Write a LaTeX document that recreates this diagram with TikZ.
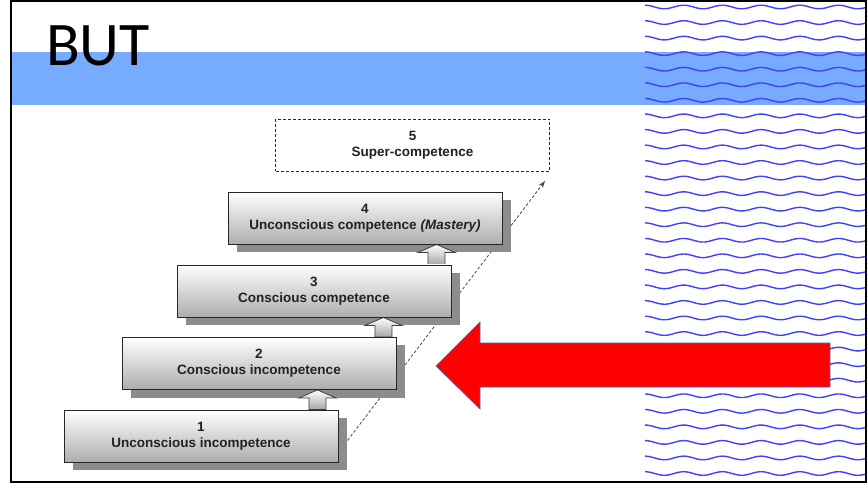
\documentclass[tikz,border=0pt]{standalone}
\usepackage{fontspec}
\setmainfont{Liberation Sans}
\newfontfamily\titlefont{Carlito}
\usetikzlibrary{arrows.meta,positioning,calc,backgrounds}

\definecolor{bandblue}{RGB}{119,171,255}
\definecolor{waveblue}{RGB}{64,64,255}
\definecolor{arrowedge}{RGB}{70,100,170}
\definecolor{labelgray}{RGB}{34,34,34}

\begin{document}
\begin{tikzpicture}[
  x=1pt, y=-1pt,
  boxbase/.style={rectangle, minimum width=274pt, minimum height=52pt, align=center, inner sep=2pt, text=labelgray, font=\fontsize{13.5}{16}\selectfont\bfseries},
  stepbox/.style={boxbase, draw=black!85, line width=0.9pt, top color=white, bottom color=black!32},
  goalbox/.style={boxbase, draw=black!85, line width=1pt, dash pattern=on 3pt off 2pt, fill=white},
  boxshadow/.style={fill=black!45},
  uparr/.style={draw=black!75, line width=0.8pt, top color=white, bottom color=black!35},
  climb/.style={draw=black!70, line width=0.8pt, dash pattern=on 3pt off 2pt, -{Stealth[length=7pt,width=5pt]}},
  wave/.style={draw=waveblue, line width=1.4pt},
  redarrow/.style={fill=red, draw=arrowedge, line width=0.7pt}
]
  \useasboundingbox (0,0) rectangle (867,486);

  % title band
  \fill[bandblue] (11,52) rectangle (866,105);
  \node[anchor=base west, inner sep=0pt, font=\titlefont\fontsize{62}{62}\selectfont] (but) at (46,66) {BUT};

  % waves on the right
  \foreach \i in {0,...,30}
    \draw[wave] plot[domain=645:865, samples=90, smooth] (\x, {7+15.55*\i-1.8*cos((\x-645)*9.3)});

  % competence steps
  \node[stepbox] (b1) at (201,436) {1\\Unconscious incompetence};
  \node[stepbox] (b2) at (259,363.5) {2\\Conscious incompetence};
  \node[stepbox] (b3) at (314,291) {3\\Conscious competence};
  \node[stepbox] (b4) at (365,218) {4\\Unconscious competence {\itshape(Mastery)}};
  \node[goalbox] (b5) at (412.5,145.5) {5\\Super-competence};

  \begin{scope}[on background layer]
    \fill[white] (0,0) rectangle (867,486);
    \coordinate (cstart) at ($(b1.south east)+(0,-10)$);
    \coordinate (cend) at ($(b5.south east)+(-5,9)$);
    \draw[climb] (cstart) -- (cend);
    \foreach \b in {b1,b2,b3,b4}
      \fill[boxshadow] ($(\b.north west)+(9,8)$) rectangle ($(\b.south east)+(9,8)$);
    \foreach \lo/\hi/\dx in {b1/b2/-21, b2/b3/-13, b3/b4/-15} {
      \coordinate (foot) at ($(\lo.north east)+(\dx,0)$);
      \coordinate (tip) at (foot |- \hi.south);
      \draw[uparr] ($(foot)+(-8.5,0)$) -- ($(tip)+(-8.5,8)$) -- ($(tip)+(-18.5,8)$) -- (tip)
        -- ($(tip)+(18.5,8)$) -- ($(tip)+(8.5,8)$) -- ($(foot)+(8.5,0)$) -- cycle;
    }
  \end{scope}

  % big red arrow
  \draw[redarrow] (436,366) -- (480,322) -- (480,343) -- (830,343) -- (830,387)
    -- (480,387) -- (480,409) -- cycle;

  % slide frame
  \draw[line width=2pt] (11,1) rectangle (866,482);
\end{tikzpicture}
\end{document}
